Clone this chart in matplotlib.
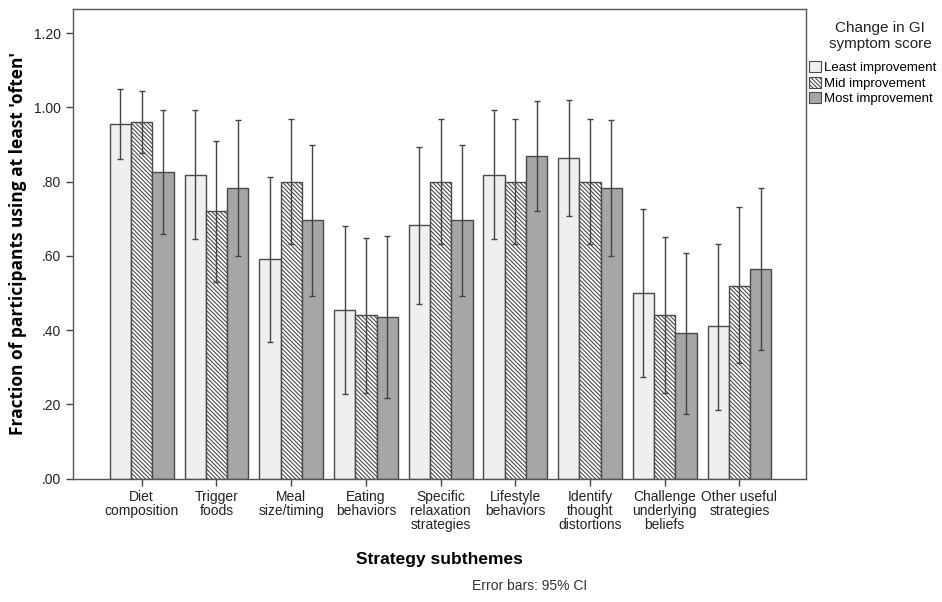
import numpy as np
import matplotlib
matplotlib.use("Agg")
import matplotlib.pyplot as plt
from matplotlib.patches import Patch

plt.rcParams['font.family'] = ['Liberation Sans', 'DejaVu Sans']
plt.rcParams['hatch.linewidth'] = 0.8

categories = ["Diet\ncomposition", "Trigger\nfoods", "Meal\nsize/timing", "Eating\nbehaviors",
              "Specific\nrelaxation\nstrategies", "Lifestyle\nbehaviors", "Identify\nthought\ndistortions",
              "Challenge\nunderlying\nbeliefs", "Other useful\nstrategies"]
series = ["Least improvement", "Mid improvement", "Most improvement"]

least = [0.955, 0.818, 0.591, 0.455, 0.682, 0.818, 0.864, 0.500, 0.410]
mid = [0.960, 0.720, 0.800, 0.440, 0.800, 0.800, 0.800, 0.440, 0.520]
most = [0.826, 0.783, 0.696, 0.435, 0.696, 0.870, 0.783, 0.391, 0.565]

# 95% CI bounds
least_lo = [0.860, 0.644, 0.368, 0.229, 0.470, 0.644, 0.707, 0.273, 0.184]
least_hi = [1.050, 0.993, 0.813, 0.680, 0.893, 0.993, 1.020, 0.727, 0.632]
mid_lo = [0.876, 0.530, 0.631, 0.231, 0.631, 0.631, 0.631, 0.231, 0.310]
mid_hi = [1.043, 0.910, 0.969, 0.648, 0.969, 0.969, 0.969, 0.650, 0.731]
most_lo = [0.658, 0.599, 0.492, 0.216, 0.492, 0.721, 0.599, 0.175, 0.346]
most_hi = [0.993, 0.965, 0.899, 0.653, 0.899, 1.018, 0.965, 0.608, 0.784]

yticks = [0.0, 0.2, 0.4, 0.6, 0.8, 1.0, 1.2]
ytick_labels = [".00", ".20", ".40", ".60", ".80", "1.00", "1.20"]

fig = plt.figure(figsize=(9.42, 6.02), dpi=100)
ax = fig.add_axes([73 / 942, 1 - 478.5 / 602, (806 - 73) / 942, (478.5 - 9) / 602])

x = np.arange(len(categories))
w = 0.285
styles = [
    dict(color="#efefef", hatch=None),
    dict(color="white", hatch="\\" * 8),
    dict(color="#a6a6a6", hatch=None),
]
data = [(least, least_lo, least_hi), (mid, mid_lo, mid_hi), (most, most_lo, most_hi)]

for i, ((vals, lo, hi), st) in enumerate(zip(data, styles)):
    pos = x + (i - 1) * w
    ax.bar(pos, vals, width=w, color=st["color"], hatch=st["hatch"],
           edgecolor="#4a4a4a", linewidth=1.0, zorder=2)
    vals = np.array(vals)
    yerr = [vals - np.array(lo), np.array(hi) - vals]
    ax.errorbar(pos, vals, yerr=yerr, fmt="none", ecolor="#444444",
                elinewidth=1.0, capsize=2, capthick=1.0, zorder=3)

ax.set_xlim(-0.92, 8.89)
ax.set_ylim(0, 1.265)
ax.set_xticks(x)
ax.set_xticklabels(categories, fontsize=10, linespacing=1.0, color="#222222")
ax.set_yticks(yticks)
ax.set_yticklabels(ytick_labels, fontsize=10, color="#222222")
ax.tick_params(axis="both", direction="out", length=5, width=1, color="#444444")
for sp in ax.spines.values():
    sp.set_color("#555555")
    sp.set_linewidth(1.0)

ax.set_ylabel("Fraction of participants using at least 'often'", fontsize=12.5,
              fontweight="bold", family=["Open Sans", "DejaVu Sans"], labelpad=5)
ax.set_xlabel("Strategy subthemes", fontsize=12.5, fontweight="bold", labelpad=14)
fig.text(530 / 942, 1 - 586 / 602, "Error bars: 95% CI", fontsize=10, ha="center",
         va="center", color="#333333")

# legend title drawn centred above the entries
fig.text(880 / 942, 1 - 36 / 602, "Change in GI\nsymptom score", fontsize=11,
         ha="center", va="center", linespacing=1.15, color="#222222")
handles = [Patch(facecolor=st["color"], hatch=st["hatch"], edgecolor="#4a4a4a", linewidth=0.8)
           for st in styles]
leg = fig.legend(handles, series, loc="upper left", bbox_to_anchor=(809 / 942, 1 - 61 / 602),
                 frameon=False, fontsize=9.5, handlelength=0.9, handleheight=0.9,
                 handletextpad=0.2, labelspacing=0.2, borderaxespad=0, borderpad=0)

fig.savefig("out.png", dpi=100)
